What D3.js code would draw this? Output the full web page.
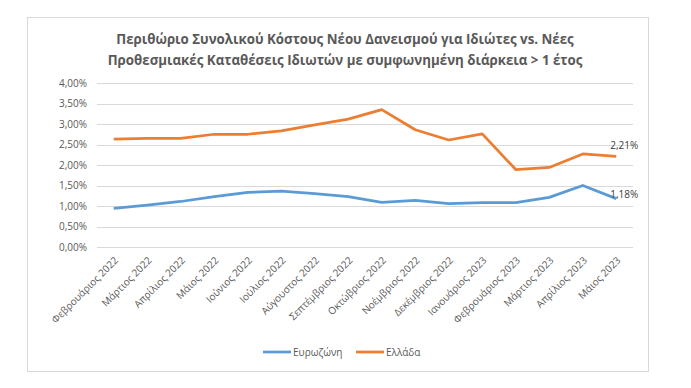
<!DOCTYPE html>
<html>
<head>
<meta charset="utf-8">
<script src="https://cdn.jsdelivr.net/npm/d3@7"></script>
<style>
  body { margin: 0; background: #fff; }
  text { font-family: "Open Sans", "Noto Sans", sans-serif; }
</style>
</head>
<body>
<div id="chart"></div>
<script>
// months on the x axis
let months = ["Φεβρουάριος 2022", "Μάρτιος 2022", "Απρίλιος 2022", "Μάιος 2022", "Ιούνιος 2022",
  "Ιούλιος 2022", "Αύγουστος 2022", "Σεπτέμβριος 2022", "Οκτώβριος 2022", "Νοέμβριος 2022",
  "Δεκέμβριος 2022", "Ιανουάριος 2023", "Φεβρουάριος 2023", "Μάρτιος 2023", "Απρίλιος 2023", "Μάιος 2023"];

// spreads in %
let eurozone = [0.94, 1.02, 1.11, 1.23, 1.33, 1.36, 1.30, 1.23, 1.09, 1.14, 1.06, 1.08, 1.08, 1.21, 1.50, 1.18];
let greece = [2.63, 2.65, 2.65, 2.75, 2.75, 2.83, 2.98, 3.12, 3.35, 2.86, 2.61, 2.76, 1.89, 1.94, 2.27, 2.21];

let yTicks = [0, 0.5, 1, 1.5, 2, 2.5, 3, 3.5, 4];

let seriesNames = ["Ευρωζώνη", "Ελλάδα"];
let colors = ["#5B9BD5", "#ED7D31"];
let labelDy = [-1, -7]; // end label offsets

let svgWidth = 691;
let svgHeight = 388;

let margin = { top: 83, right: 58, bottom: 141, left: 97 };
let width = svgWidth - margin.left - margin.right;
let height = svgHeight - margin.top - margin.bottom;

let fmt = v => v.toFixed(2).replace(".", ",") + "%";

let svg = d3.select("#chart")
  .append("svg")
  .attr("width", svgWidth)
  .attr("height", svgHeight);

// chart area border
svg.append("rect")
  .attr("x", 27.5).attr("y", 17.5)
  .attr("width", 621).attr("height", 354)
  .attr("fill", "#fff")
  .attr("stroke", "#d9d9d9");

// title
let title = svg.append("text")
  .attr("text-anchor", "middle")
  .attr("font-size", "13.3px")
  .attr("font-weight", "bold")
  .attr("fill", "#595959");
title.append("tspan").attr("x", 345).attr("y", 44)
  .text("Περιθώριο Συνολικού Κόστους Νέου Δανεισμού για Ιδιώτες vs. Νέες");
title.append("tspan").attr("x", 345).attr("y", 65)
  .text("Προθεσμιακές Καταθέσεις Ιδιωτών με συμφωνημένη διάρκεια > 1 έτος");

let chartGroup = svg.append("g")
  .attr("transform", `translate(${margin.left}, ${margin.top})`);

let x = d3.scaleBand().domain(months).range([0, width]);
let y = d3.scaleLinear().domain([0, 4]).range([height, 0]);

// gridlines
chartGroup.append("g")
  .selectAll("line")
  .data(yTicks)
  .enter()
  .append("line")
  .attr("x1", 0).attr("x2", width)
  .attr("y1", d => Math.round(y(d)) + 0.5)
  .attr("y2", d => Math.round(y(d)) + 0.5)
  .attr("stroke", "#d9d9d9");

// y axis
let leftAxis = d3.axisLeft(y).tickValues(yTicks).tickFormat(fmt).tickSize(0).tickPadding(10);
let yAxis = chartGroup.append("g").call(leftAxis);
yAxis.select(".domain").remove();
yAxis.selectAll("text").attr("font-size", "10px").attr("fill", "#595959")
  .attr("font-family", "'Open Sans', sans-serif");

// x axis
let bottomAxis = d3.axisBottom(x).tickSize(0).tickPadding(0);
let xAxis = chartGroup.append("g")
  .attr("transform", `translate(0, ${height})`)
  .call(bottomAxis);
xAxis.select(".domain").remove();
xAxis.selectAll("text")
  .attr("font-size", "10px")
  .attr("fill", "#595959")
  .attr("font-family", "'Open Sans', sans-serif")
  .attr("text-anchor", "end")
  .attr("dy", "0")
  .attr("y", 0)
  .attr("transform", "translate(5, 14) rotate(-45)");

// lines
let line = d3.line()
  .x((d, i) => x(months[i]) + x.bandwidth() / 2)
  .y(d => y(d));

[eurozone, greece].forEach(function (series, k) {
  chartGroup.append("path")
    .datum(series)
    .attr("fill", "none")
    .attr("stroke", colors[k])
    .attr("stroke-width", 2.75)
    .attr("stroke-linejoin", "round")
    .attr("d", line);

  let last = series.length - 1;
  chartGroup.append("text")
    .attr("x", x(months[last]) + x.bandwidth() / 2 - 6)
    .attr("y", y(series[last]) + labelDy[k])
    .attr("font-size", "10px")
    .attr("fill", "#404040")
    .text(fmt(series[last]));
});

// legend
let legendX = [263, 356];
seriesNames.forEach(function (name, k) {
  svg.append("line")
    .attr("x1", legendX[k]).attr("x2", legendX[k] + 28)
    .attr("y1", 352).attr("y2", 352)
    .attr("stroke", colors[k])
    .attr("stroke-width", 2.75);
  svg.append("text")
    .attr("x", legendX[k] + 30)
    .attr("y", 356)
    .attr("font-size", "10px")
    .attr("fill", "#595959")
    .text(name);
});
</script>
</body>
</html>
